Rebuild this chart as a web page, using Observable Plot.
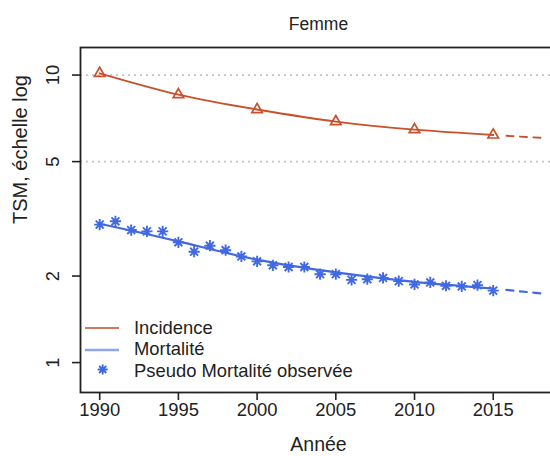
<!DOCTYPE html>
<html>
<head>
<meta charset="utf-8">
<script src="https://cdn.jsdelivr.net/npm/d3@7"></script>
<script src="https://cdn.jsdelivr.net/npm/@observablehq/plot@0.6"></script>
<style>
  html, body { margin: 0; padding: 0; overflow: hidden; background: #fff; }
  #wrap { position: relative; width: 550px; height: 456px; overflow: hidden; }
  #wrap > svg { max-width: none !important; width: 556px !important; height: 456px !important; display: block; }
  #legend { position: absolute; left: 84px; top: 317px; font: 18.4px "Liberation Sans", Arial, sans-serif; color: #222; }
  .row { display: flex; align-items: center; height: 21.5px; }
  .row span { margin-left: 14px; white-space: nowrap; }
</style>
</head>
<body>
<div id="wrap"><div id="legend"></div></div>
<script>
// ---- data ----
const title = "Femme";
const xLabel = "Année";
const yLabel = "TSM, échelle log";
const legendLabels = ["Incidence", "Mortalité", "Pseudo Mortalité observée"];

const fitYears = [1990, 1995, 2000, 2005, 2010, 2015];
const incidence = [10.14, 8.55, 7.59, 6.89, 6.46, 6.19];
const mortalityFit = [3.04, 2.64, 2.28, 2.06, 1.91, 1.81];

const projYears = [2015, 2018];
const incidenceProj = [6.19, 6.05];
const mortalityProj = [1.81, 1.74];

const obsYears = [1990, 1991, 1992, 1993, 1994, 1995, 1996, 1997, 1998, 1999, 2000, 2001, 2002,
                  2003, 2004, 2005, 2006, 2007, 2008, 2009, 2010, 2011, 2012, 2013, 2014, 2015];
const mortalityObs = [3.02, 3.10, 2.89, 2.86, 2.86, 2.62, 2.43, 2.55, 2.46, 2.34, 2.25, 2.18, 2.15,
                      2.15, 2.03, 2.03, 1.94, 1.95, 1.97, 1.92, 1.87, 1.90, 1.85, 1.84, 1.86, 1.78];

const xTicks = [1990, 1995, 2000, 2005, 2010, 2015];
const yTicks = [1, 2, 5, 10];
const gridTicks = [5, 10];

// ---- styles ----
const red = "#C8502C";
const blue = "#4169E1";
const redLegend = "#D27A5E";
const blueLegend = "#8FA6EC";
const font = "'Liberation Sans', Arial, sans-serif";

const asterisk8 = {
  draw(ctx, size) {
    const r = Math.sqrt(size / Math.PI);
    const d = r * Math.SQRT1_2;
    ctx.moveTo(-r, 0); ctx.lineTo(r, 0);
    ctx.moveTo(0, -r); ctx.lineTo(0, r);
    ctx.moveTo(-d, -d); ctx.lineTo(d, d);
    ctx.moveTo(-d, d); ctx.lineTo(d, -d);
  }
};

const incFit = fitYears.map((x, i) => ({x, y: incidence[i]}));
const incProj = projYears.map((x, i) => ({x, y: incidenceProj[i]}));
const mortFit = fitYears.map((x, i) => ({x, y: mortalityFit[i]}));
const mortProj = projYears.map((x, i) => ({x, y: mortalityProj[i]}));
const mortObs = obsYears.map((x, i) => ({x, y: mortalityObs[i]}));

const dash = "0,13.3,7,6.5,7,6.5,7,6.5,7,6.5";

const chart = Plot.plot({
  width: 556,
  height: 456,
  marginTop: 47,
  marginBottom: 64,
  marginLeft: 80,
  marginRight: 0,
  style: {fontFamily: font, fontSize: "18.4px", color: "#222", background: "#fff", overflow: "visible", maxWidth: "none"},
  x: {domain: [1988.78, 2019.02]},
  y: {type: "log", domain: [0.787, 12.47]},
  marks: [
    Plot.ruleY(gridTicks, {stroke: "#c4c4c4", strokeWidth: 1.7, strokeDasharray: "2,4"}),
    Plot.frame({stroke: "#222", strokeWidth: 1.8}),
    Plot.axisX({ticks: xTicks, tickSize: 8, tickPadding: 2, tickFormat: d => String(d), label: null, strokeWidth: 1.6}),
    Plot.axisY({ticks: yTicks, tickSize: 8, tickFormat: () => "", label: null, strokeWidth: 1.6}),
    Plot.text(yTicks, {y: d => d, text: d => String(d), frameAnchor: "left", dx: -27, rotate: -90, textAnchor: "middle", lineAnchor: "middle"}),
    Plot.text([yLabel], {frameAnchor: "left", dx: -60, dy: 4, rotate: -90, fontSize: 20, lineAnchor: "middle"}),
    Plot.text([xLabel], {frameAnchor: "bottom", dy: 52.5, fontSize: 19.5, lineAnchor: "middle"}),
    Plot.text([title], {frameAnchor: "top", dy: -23, fontSize: 17.5, lineAnchor: "middle"}),
    // incidence
    Plot.line(incFit, {x: "x", y: "y", stroke: red, strokeWidth: 1.9, curve: "natural"}),
    Plot.line(incProj, {x: "x", y: "y", stroke: red, strokeWidth: 1.9, strokeDasharray: dash}),
    Plot.dot(incFit, {x: "x", y: "y", symbol: "triangle", r: 3.9, stroke: red, fill: "none", strokeWidth: 1.7}),
    // mortality
    Plot.line(mortFit, {x: "x", y: "y", stroke: blue, strokeWidth: 2.2, curve: "natural"}),
    Plot.line(mortProj, {x: "x", y: "y", stroke: blue, strokeWidth: 2.2, strokeDasharray: dash}),
    Plot.dot(mortObs, {x: "x", y: "y", symbol: asterisk8, r: 5.6, stroke: blue, fill: "none", strokeWidth: 1.9})
  ]
});
document.getElementById("wrap").prepend(chart);

// ---- legend ----
const legend = document.getElementById("legend");
const swatches = [
  `<line x1="1" x2="35" y1="11" y2="11" stroke="${redLegend}" stroke-width="2.2"/>`,
  `<line x1="1" x2="35" y1="11" y2="11" stroke="${blueLegend}" stroke-width="2.6"/>`,
  (() => {
    const p = d3.path();
    asterisk8.draw(p, Math.PI * 5 * 5);
    return `<path transform="translate(18.7,9.5)" d="${p.toString()}" stroke="${blue}" stroke-width="1.9" fill="none"/>`;
  })()
];
legendLabels.forEach((label, i) => {
  const row = document.createElement("div");
  row.className = "row";
  row.innerHTML = `<svg width="36" height="21.5" style="overflow:visible">${swatches[i]}</svg><span>${label}</span>`;
  legend.appendChild(row);
});
</script>
</body>
</html>
